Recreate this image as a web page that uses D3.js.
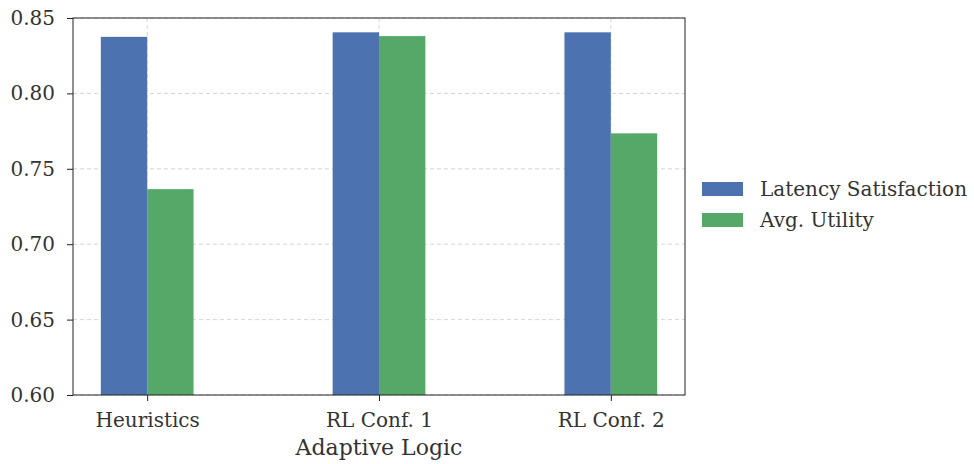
<!DOCTYPE html>
<html>
<head>
<meta charset="utf-8">
<script src="https://cdn.jsdelivr.net/npm/d3@7/dist/d3.min.js"></script>
<style>
  html, body { margin: 0; padding: 0; background: #fff; }
  svg text { font-family: "DejaVu Serif", serif; fill: #333; }
</style>
</head>
<body>
<svg id="chart" width="974" height="464"></svg>
<script>
// Data
const categories = ["Heuristics", "RL Conf. 1", "RL Conf. 2"];
const seriesNames = ["Latency Satisfaction", "Avg. Utility"];
const latencySatisfaction = [0.8375, 0.8405, 0.8405];
const avgUtility = [0.7365, 0.838, 0.7735];
const yTicks = [0.60, 0.65, 0.70, 0.75, 0.80, 0.85];
const seriesColors = ["#4C72B0", "#55A868"];

const svg = d3.select("#chart");
const W = 974, H = 464;
const margin = { left: 73, top: 18, right: W - 685, bottom: H - 395 };
const pw = W - margin.left - margin.right;
const ph = H - margin.top - margin.bottom;

const barW = 0.2;
const x = d3.scaleLinear().domain([-0.32, 2.32]).range([margin.left, margin.left + pw]);
const y = d3.scaleLinear().domain([0.60, 0.85]).range([margin.top + ph, margin.top]);

// Grid
const grid = svg.append("g");
grid.selectAll("line.gy").data(yTicks).join("line")
  .attr("x1", margin.left).attr("x2", margin.left + pw)
  .attr("y1", d => y(d)).attr("y2", d => y(d))
  .attr("stroke", "#cccccc").attr("stroke-width", 0.8).attr("stroke-dasharray", "4,3");
grid.selectAll("line.gx").data(categories.map((c, i) => i)).join("line")
  .attr("x1", d => x(d)).attr("x2", d => x(d))
  .attr("y1", margin.top).attr("y2", margin.top + ph)
  .attr("stroke", "#cccccc").attr("stroke-width", 0.8).attr("stroke-dasharray", "4,3");

// Bars
const series = [latencySatisfaction, avgUtility];
series.forEach((vals, s) => {
  svg.append("g").selectAll("rect").data(vals).join("rect")
    .attr("x", (d, i) => x(i + (s === 0 ? -barW : 0)))
    .attr("width", x(barW) - x(0))
    .attr("y", d => y(d))
    .attr("height", d => y(0.60) - y(d))
    .attr("fill", seriesColors[s]);
});

// Frame
svg.append("rect")
  .attr("x", margin.left).attr("y", margin.top)
  .attr("width", pw).attr("height", ph)
  .attr("fill", "none").attr("stroke", "#222").attr("stroke-width", 1);

// Y axis
const yAxis = d3.axisLeft(y).tickValues(yTicks).tickFormat(d3.format(".2f")).tickSize(6).tickPadding(12);
const gy = svg.append("g").attr("transform", `translate(${margin.left},0)`).call(yAxis);
gy.select(".domain").remove();
gy.selectAll(".tick line").attr("stroke", "#222");
gy.selectAll(".tick text").style("font-size", "20px").style("font-family", "DejaVu Serif").attr("fill", "#333");

// X axis
const xAxis = d3.axisBottom(x).tickValues([0, 1, 2]).tickFormat(i => categories[i]).tickSize(6).tickPadding(12);
const gx = svg.append("g").attr("transform", `translate(0,${margin.top + ph})`).call(xAxis);
gx.select(".domain").remove();
gx.selectAll(".tick line").attr("stroke", "#222");
gx.selectAll(".tick text").style("font-size", "20px").style("font-family", "DejaVu Serif").attr("fill", "#333");

// Axis title
svg.append("text")
  .attr("x", margin.left + pw / 2).attr("y", 455)
  .attr("text-anchor", "middle")
  .style("font-size", "22px")
  .text("Adaptive Logic");

// Legend
const legend = svg.append("g");
seriesNames.forEach((name, i) => {
  const ly = 189 + i * 31;
  legend.append("rect").attr("x", 702).attr("y", ly - 7).attr("width", 41).attr("height", 14)
    .attr("fill", seriesColors[i]);
  legend.append("text").attr("x", 760).attr("y", ly + 7)
    .style("font-size", "20px").text(name);
});
</script>
</body>
</html>
